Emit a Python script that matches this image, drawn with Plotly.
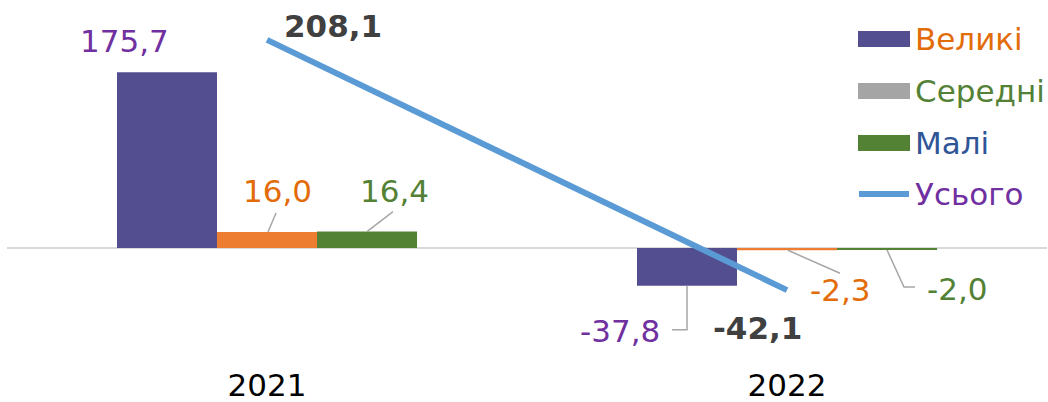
import plotly.graph_objects as go

years = ["2021", "2022"]
large = [175.7, -37.8]
medium = [16.0, -2.3]
small = [16.4, -2.0]
total = [208.1, -42.1]
series_names = ["Великі", "Середні", "Малі", "Усього"]

FONT = "DejaVu Sans"
FS = 31
BAR_COLORS = ["#524E8F", "#ED7D31", "#548235"]
LABEL_COLORS = ["#7030A0", "#E36C0A", "#538135"]
LINE_COLOR = "#5B9BD5"
LEG_SWATCH = ["#524E8F", "#A5A5A5", "#548235"]
LEG_TEXT = ["#E36C0A", "#538135", "#2F5597", "#7030A0"]
DARK = "#404040"
LEADER = "#A6A6A6"

W, H = 1048, 402
ML, MR, MT, MB = 7, 1, 0, 41
PW = W - ML - MR
PH = H - MT - MB
Y_TOP = 248
xs = list(range(len(years)))
bar_off = 100 / 520.0  # bar centre offset in category units

fig = go.Figure()
for vals, col, nm in zip([large, medium, small], BAR_COLORS, series_names[:3]):
    fig.add_trace(go.Bar(x=xs, y=vals, name=nm, marker_color=col,
                         marker_line_width=0, showlegend=False))
fig.add_trace(go.Scatter(x=xs, y=total, mode="lines", name=series_names[3],
                         line=dict(color=LINE_COLOR, width=6), showlegend=False))

ann = []
shapes = []

def label(x, y, text, color, dx, dy, bold=False):
    t = f"<b>{text}</b>" if bold else text
    ann.append(dict(x=x, y=y, xref="x", yref="y", text=t, showarrow=False,
                    xshift=dx, yshift=dy, xanchor="center", yanchor="middle",
                    font=dict(family=FONT, size=FS, color=color)))

def leader(x, y, path):
    shapes.append(dict(type="path", xref="x", yref="y", xsizemode="pixel",
                       ysizemode="pixel", xanchor=x, yanchor=y, path=path,
                       line=dict(color=LEADER, width=1.5)))

fmt = lambda v: f"{v:.1f}".replace(".", ",")

# 2021
label(0 - bar_off, large[0], fmt(large[0]), LABEL_COLORS[0], -43, 31)
label(0, medium[0], fmt(medium[0]), LABEL_COLORS[1], 10, 41)
leader(0, medium[0], "M1,0 L9,19")
label(0 + bar_off, small[0], fmt(small[0]), LABEL_COLORS[2], 27, 41)
leader(0 + bar_off, small[0], "M0,0 L26,20")
label(0, total[0], fmt(total[0]), DARK, 66, 14, bold=True)
# 2022
label(1 - bar_off, large[1], fmt(large[1]), LABEL_COLORS[0], -67, -45)
leader(1 - bar_off, large[1], "M0,0 L0,-44 L-15,-44")
label(1, medium[1], fmt(medium[1]), LABEL_COLORS[1], 53, -40)
leader(1, medium[1], "M1,0 L53,-23")
label(1 + bar_off, small[1], fmt(small[1]), LABEL_COLORS[2], 70, -39)
leader(1 + bar_off, small[1], "M0,0 L17,-37 L28,-37")
label(1, total[1], fmt(total[1]), DARK, -30, -38, bold=True)

# manual legend (pixel positions converted to paper fractions)
def px(xp):
    return (xp - ML) / PW
def py(yp):
    return 1 - (yp - MT) / PH

leg_y = [39, 91, 143, 194]
for i, nm in enumerate(series_names):
    yc = leg_y[i]
    if i < 3:
        shapes.append(dict(type="rect", xref="paper", yref="paper",
                           x0=px(858), x1=px(910), y0=py(yc + 8), y1=py(yc - 8),
                           fillcolor=LEG_SWATCH[i], line_width=0))
    else:
        shapes.append(dict(type="line", xref="paper", yref="paper",
                           x0=px(859), x1=px(909), y0=py(yc), y1=py(yc),
                           line=dict(color=LINE_COLOR, width=6)))
    ann.append(dict(x=px(913), y=py(yc), xref="paper", yref="paper", text=nm,
                    showarrow=False, xanchor="left", yanchor="middle",
                    font=dict(family=FONT, size=FS, color=LEG_TEXT[i])))

fig.update_layout(
    width=W, height=H,
    margin=dict(l=ML, r=MR, t=MT, b=MB, autoexpand=False),
    paper_bgcolor="white", plot_bgcolor="white",
    barmode="group", bargap=0.423, bargroupgap=0,
    showlegend=False,
    annotations=ann, shapes=shapes,
    xaxis=dict(range=[-0.5, 1.5], tickvals=xs, ticktext=years, automargin=False,
               showgrid=False, zeroline=False, showline=False, ticks="",
               ticklabelstandoff=3,
               tickfont=dict(family=FONT, size=FS, color="#000000")),
    yaxis=dict(range=[Y_TOP - PH, Y_TOP], showgrid=False, zeroline=True,
               automargin=False,
               zerolinecolor="#D9D9D9", zerolinewidth=2, showticklabels=False,
               ticks=""),
)

fig.write_html("out.html", config={"displayModeBar": False},
               post_script="document.body.style.margin='0';document.body.style.overflow='hidden';")
